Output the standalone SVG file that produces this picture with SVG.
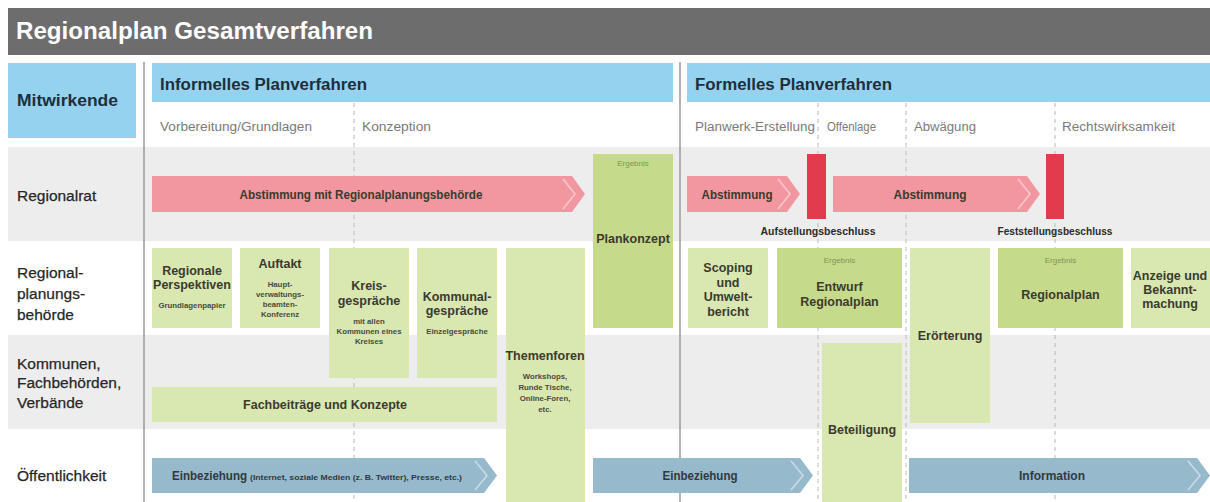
<svg xmlns="http://www.w3.org/2000/svg" width="1210" height="502" viewBox="0 0 1210 502">
<style>
text{font-family:"Liberation Sans",Arial,sans-serif;}
.title{font-size:23px;font-weight:bold;fill:#ffffff;}
.hdr{font-size:16px;font-weight:bold;fill:#1d2f3c;}
.sub{font-size:12px;fill:#7a7a7a;}
.row{font-size:15.5px;fill:#262626;stroke:#262626;stroke-width:0.25;}
.b{font-size:12.5px;font-weight:bold;fill:#3a3b2e;text-anchor:middle;}
.s{font-size:7.8px;font-weight:bold;fill:#4a4b3e;text-anchor:middle;}
.erg{font-size:8px;fill:#7d9656;text-anchor:middle;}
.lbl{font-size:11px;font-weight:bold;fill:#2b2b2b;text-anchor:middle;}
.lt{fill:#d9e7b1;}
.md{fill:#c5da8b;}
.pink{fill:#f2979f;}
.red{fill:#e33b4e;}
.blue{fill:#96b9cb;}
.chp{fill:none;stroke:#f8c6cb;stroke-width:1.6;}
.chb{fill:none;stroke:#c8dce6;stroke-width:1.6;}
.dash{stroke:#b8b8b8;stroke-width:1;stroke-dasharray:4,4;}
.solid{stroke:#9a9a9a;stroke-width:1.5;}
</style>
<rect width="1210" height="502" fill="#ffffff"/>
<g id="title">
<rect x="8" y="8" width="1202" height="47" fill="#6d6d6d"/>
<text x="16" y="39" class="title" textLength="357" lengthAdjust="spacingAndGlyphs">Regionalplan Gesamtverfahren</text>
</g>
<g id="bands">
<rect x="8" y="147" width="1202" height="94" fill="#ededed"/>
<rect x="8" y="335" width="1202" height="94" fill="#ededed"/>
</g>
<g id="header-mitwirkende">
<rect x="8" y="63" width="128" height="75" fill="#94d2ef"/>
<text x="17" y="106" class="hdr" textLength="101" lengthAdjust="spacingAndGlyphs">Mitwirkende</text>
</g>
<g id="header-informell">
<rect x="152" y="63" width="521" height="39" fill="#94d2ef"/>
<text x="160" y="90" class="hdr" textLength="207" lengthAdjust="spacingAndGlyphs">Informelles Planverfahren</text>
<text x="160" y="131" class="sub" textLength="152" lengthAdjust="spacingAndGlyphs">Vorbereitung/Grundlagen</text>
<text x="362" y="131" class="sub" textLength="69" lengthAdjust="spacingAndGlyphs">Konzeption</text>
</g>
<g id="header-formell">
<rect x="687" y="63" width="523" height="39" fill="#94d2ef"/>
<text x="695" y="90" class="hdr" textLength="197" lengthAdjust="spacingAndGlyphs">Formelles Planverfahren</text>
<text x="695" y="131" class="sub" textLength="120" lengthAdjust="spacingAndGlyphs">Planwerk-Erstellung</text>
<text x="827" y="131" class="sub" textLength="49" lengthAdjust="spacingAndGlyphs">Offenlage</text>
<text x="914" y="131" class="sub" textLength="62" lengthAdjust="spacingAndGlyphs">Abwägung</text>
<text x="1062" y="131" class="sub" textLength="113" lengthAdjust="spacingAndGlyphs">Rechtswirksamkeit</text>
</g>
<g id="row-labels">
<text x="17" y="201" class="row">Regionalrat</text>
<text x="17" y="278" class="row">Regional-</text>
<text x="17" y="299" class="row">planungs-</text>
<text x="17" y="320" class="row">behörde</text>
<text x="17" y="369" class="row">Kommunen,</text>
<text x="17" y="388" class="row">Fachbehörden,</text>
<text x="17" y="408" class="row">Verbände</text>
<text x="17" y="481" class="row">Öffentlichkeit</text>
</g>
<g id="grid-lines">
<line x1="144" y1="62" x2="144" y2="502" class="solid"/>
<line x1="680" y1="62" x2="680" y2="502" class="solid"/>
<line x1="354" y1="103" x2="354" y2="502" class="dash"/>
<line x1="818" y1="103" x2="818" y2="502" class="dash"/>
<line x1="906" y1="103" x2="906" y2="502" class="dash"/>
<line x1="1055" y1="103" x2="1055" y2="502" class="dash"/>
</g>
<g id="arrow-abstimmung-1">
<polygon points="152,176 572,176 585,194 572,212 152,212" class="pink"/>
<polyline points="563,179 575,194 563,209" class="chp"/>
<text x="361" y="199" class="b" textLength="243" lengthAdjust="spacingAndGlyphs">Abstimmung mit Regionalplanungsbehörde</text>
</g>
<g id="plankonzept">
<rect x="593" y="154" width="80" height="174" class="md"/>
<text x="633" y="166" class="erg">Ergebnis</text>
<text x="633" y="243" class="b">Plankonzept</text>
</g>
<g id="arrow-abstimmung-2">
<polygon points="687,176 787,176 800,194 787,212 687,212" class="pink"/>
<polyline points="778,179 790,194 778,209" class="chp"/>
<text x="737" y="199" class="b" textLength="71" lengthAdjust="spacingAndGlyphs">Abstimmung</text>
</g>
<g id="aufstellungsbeschluss">
<rect x="807" y="154" width="19" height="65" class="red"/>
<text x="818" y="235" class="lbl" textLength="115" lengthAdjust="spacingAndGlyphs">Aufstellungsbeschluss</text>
</g>
<g id="arrow-abstimmung-3">
<polygon points="833,176 1027,176 1040,194 1027,212 833,212" class="pink"/>
<polyline points="1018,179 1030,194 1018,209" class="chp"/>
<text x="930" y="199" class="b" textLength="73" lengthAdjust="spacingAndGlyphs">Abstimmung</text>
</g>
<g id="feststellungsbeschluss">
<rect x="1046" y="154" width="18" height="65" class="red"/>
<text x="1055" y="235" class="lbl" textLength="115" lengthAdjust="spacingAndGlyphs">Feststellungsbeschluss</text>
</g>
<g id="regionale-perspektiven">
<rect x="152" y="248" width="80" height="80" class="lt"/>
<text x="192" y="275" class="b">Regionale</text>
<text x="192" y="289" class="b">Perspektiven</text>
<text x="192" y="308" class="s">Grundlagenpapier</text>
</g>
<g id="auftakt">
<rect x="240" y="248" width="80" height="80" class="lt"/>
<text x="280" y="268" class="b">Auftakt</text>
<text x="280" y="287" class="s">Haupt-</text>
<text x="280" y="297" class="s">verwaltungs-</text>
<text x="280" y="307" class="s">beamten-</text>
<text x="280" y="317" class="s">Konferenz</text>
</g>
<g id="kreisgespraeche">
<rect x="329" y="248" width="80" height="130" class="lt"/>
<text x="369" y="290" class="b">Kreis-</text>
<text x="369" y="305" class="b">gespräche</text>
<text x="369" y="324" class="s">mit allen</text>
<text x="369" y="334" class="s">Kommunen eines</text>
<text x="369" y="344" class="s">Kreises</text>
</g>
<g id="kommunalgespraeche">
<rect x="417" y="248" width="80" height="130" class="lt"/>
<text x="457" y="301" class="b">Kommunal-</text>
<text x="457" y="315" class="b">gespräche</text>
<text x="457" y="334" class="s">Einzelgespräche</text>
</g>
<g id="themenforen">
<rect x="506" y="248" width="79" height="254" class="lt"/>
<text x="545" y="360" class="b">Themenforen</text>
<text x="545" y="379" class="s">Workshops,</text>
<text x="545" y="390" class="s">Runde Tische,</text>
<text x="545" y="401" class="s">Online-Foren,</text>
<text x="545" y="412" class="s">etc.</text>
</g>
<g id="fachbeitraege">
<rect x="152" y="387" width="345" height="35" class="lt"/>
<text x="325" y="409" class="b">Fachbeiträge und Konzepte</text>
</g>
<g id="scoping">
<rect x="688" y="248" width="80" height="80" class="lt"/>
<text x="728" y="272" class="b">Scoping</text>
<text x="728" y="287" class="b">und</text>
<text x="728" y="301" class="b">Umwelt-</text>
<text x="728" y="316" class="b">bericht</text>
</g>
<g id="entwurf-regionalplan">
<rect x="777" y="248" width="125" height="80" class="md"/>
<text x="839.5" y="263" class="erg">Ergebnis</text>
<text x="839.5" y="291" class="b">Entwurf</text>
<text x="839.5" y="306" class="b">Regionalplan</text>
</g>
<g id="eroerterung">
<rect x="910" y="248" width="80" height="175" class="lt"/>
<text x="950" y="340" class="b">Erörterung</text>
</g>
<g id="regionalplan">
<rect x="998" y="248" width="125" height="80" class="md"/>
<text x="1060.5" y="263" class="erg">Ergebnis</text>
<text x="1060.5" y="299" class="b">Regionalplan</text>
</g>
<g id="anzeige">
<rect x="1131" y="248" width="79" height="80" class="lt"/>
<text x="1170" y="280" class="b">Anzeige und</text>
<text x="1170" y="294" class="b">Bekannt-</text>
<text x="1170" y="308" class="b">machung</text>
</g>
<g id="beteiligung">
<rect x="822" y="343" width="80" height="159" class="lt"/>
<text x="862" y="434" class="b">Beteiligung</text>
</g>
<g id="arrow-einbeziehung-1">
<polygon points="152,458 484,458 497,475.5 484,493 152,493" class="blue"/>
<polyline points="475,461 487,475.5 475,490" class="chb"/>
<text x="172" y="480" font-size="13" font-weight="bold" fill="#2f3a40" textLength="75" lengthAdjust="spacingAndGlyphs">Einbeziehung</text>
<text x="250" y="480" font-size="8" font-weight="bold" fill="#2f3a40" textLength="212" lengthAdjust="spacingAndGlyphs">(Internet, soziale Medien (z. B. Twitter), Presse, etc.)</text>
</g>
<g id="arrow-einbeziehung-2">
<polygon points="593,458 800,458 813,475.5 800,493 593,493" class="blue"/>
<polyline points="791,461 803,475.5 791,490" class="chb"/>
<text x="700" y="480" class="b" style="fill:#2f3a40" textLength="75" lengthAdjust="spacingAndGlyphs">Einbeziehung</text>
</g>
<g id="arrow-information">
<polygon points="909,458 1197,458 1210,475.5 1197,493 909,493" class="blue"/>
<polyline points="1188,461 1200,475.5 1188,490" class="chb"/>
<text x="1052" y="480" class="b" style="fill:#2f3a40" textLength="66" lengthAdjust="spacingAndGlyphs">Information</text>
</g>
</svg>
